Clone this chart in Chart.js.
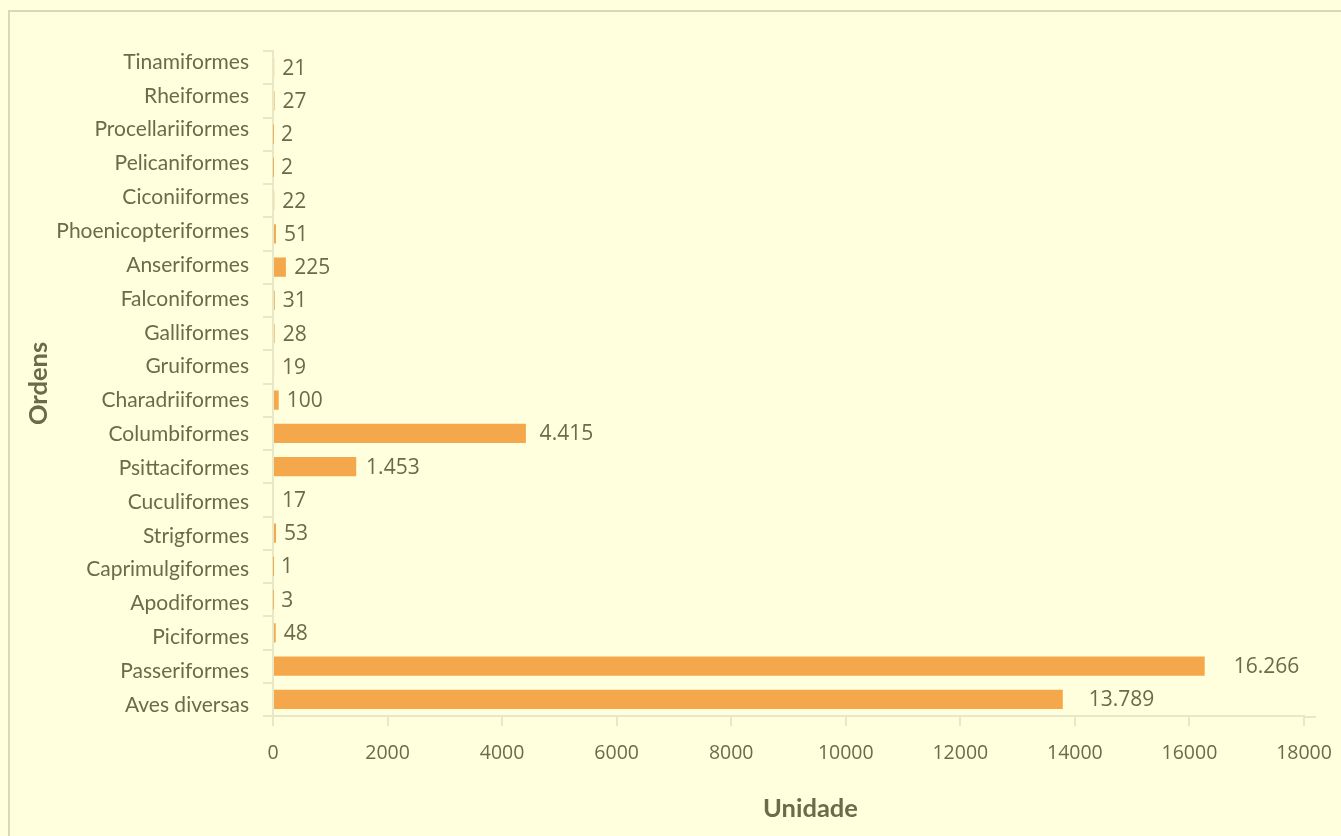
<!DOCTYPE html>
<html><head><meta charset="utf-8">
<script src="https://cdn.jsdelivr.net/npm/chart.js@4/dist/chart.umd.min.js"></script>
<style>
html,body{margin:0;padding:0;background:#FFFFDD;overflow:hidden;}
#frame{position:absolute;left:8px;top:10px;width:1400px;height:900px;border-top:2px solid #d9d9b4;border-left:2px solid #d9d9b4;}
#c{position:absolute;left:0;top:0;}
</style></head>
<body>
<div id="frame"></div>
<canvas id="c" width="1341" height="836"></canvas>
<script>
const categories = ["Tinamiformes","Rheiformes","Procellariiformes","Pelicaniformes","Ciconiiformes","Phoenicopteriformes","Anseriformes","Falconiformes","Galliformes","Gruiformes","Charadriiformes","Columbiformes","Psittaciformes","Cuculiformes","Strigformes","Caprimulgiformes","Apodiformes","Piciformes","Passeriformes","Aves diversas"];
const values = [21,27,2,2,22,51,225,31,28,19,100,4415,1453,17,53,1,3,48,16266,13789];
const xTicks = [0,2000,4000,6000,8000,10000,12000,14000,16000,18000];
const xTitle = 'Unidade';
const yTitle = 'Ordens';

const TEXT = '#6b6a4a';
const BAR = '#F4A84B';
const AXIS = '#e8e8c6';

function fmt(v){ return String(v).replace(/\B(?=(\d{3})+(?!\d))/g,'.'); }

const labelPlugin = {
  id:'valLabels',
  afterDatasetsDraw(chart){
    const ctx = chart.ctx;
    const meta = chart.getDatasetMeta(0);
    ctx.save();
    ctx.font = '21px "Open Sans"';
    ctx.fillStyle = TEXT;
    ctx.textAlign = 'left';
    ctx.textBaseline = 'middle';
    meta.data.forEach((el,i)=>{
      const v = values[i];
      const off = 8 + v*0.0013;
      ctx.fillText(fmt(v), el.x + off, el.y + 1);
    });
    const ca = chart.chartArea;
    ctx.font = 'bold 25.5px Lato';
    ctx.textAlign = 'center';
    ctx.fillText(xTitle, (ca.left + ca.right)/2 + 22, 809);
    ctx.strokeStyle = AXIS;
    ctx.lineWidth = 2;
    ctx.beginPath();
    ctx.moveTo(ca.right, ca.bottom + 1);
    ctx.lineTo(ca.right + 12, ca.bottom + 1);
    ctx.stroke();
    ctx.restore();
  }
};

const LMIN = -0.325, LMAX = categories.length - 1 + 0.325;

new Chart(document.getElementById('c'), {
  type:'bar',
  data:{ labels:categories, datasets:[{ data:values, backgroundColor:BAR, borderWidth:0, barPercentage:0.58, categoryPercentage:1, yAxisID:'y' }]},
  options:{
    indexAxis:'y',
    responsive:false,
    animation:false,
    devicePixelRatio:1,
    layout:{ padding:{ top:51, right:37, left:0, bottom:0 } },
    plugins:{ legend:{display:false}, tooltip:{enabled:false} },
    scales:{
      x:{
        min:0, max:18000,
        afterBuildTicks(s){ s.ticks = xTicks.map(v=>({value:v})); },
        afterFit(s){ s.height = 120; s.paddingLeft = 0; s.paddingRight = 0; },
        ticks:{ color:TEXT, font:{family:'"Open Sans"', size:19.5}, padding:16, callback:(v)=>String(v) },
        grid:{ display:true, drawOnChartArea:false, drawTicks:true, tickLength:10, color:AXIS, lineWidth:2 },
        border:{ display:true, color:AXIS, width:2 },
        title:{ display:false }
      },
      y:{
        type:'category',
        position:'left',
        weight:0,
        afterFit(s){ s.width = 10; },
        ticks:{ display:false },
        grid:{ display:true, drawOnChartArea:false, drawTicks:true, tickLength:10, color:AXIS, lineWidth:2, offset:true },
        border:{ display:true, color:AXIS, width:2 }
      },
      yl:{
        type:'linear',
        position:'left',
        weight:1,
        reverse:true,
        offset:false,
        min:LMIN, max:LMAX,
        bounds:'data',
        afterBuildTicks(s){ s.ticks = categories.map((c,i)=>({value:i})); s.min = LMIN; s.max = LMAX; },
        afterFit(s){ s.width = 263; },
        ticks:{ color:TEXT, font:{family:'Lato', size:21}, padding:14, callback:(v)=>categories[v] },
        grid:{ display:false, drawTicks:false, offset:false },
        border:{ display:false },
        title:{ display:true, text:yTitle, color:TEXT, font:{family:'Lato', size:25.5, weight:'bold'}, padding:{top:23,bottom:0} }
      }
    }
  },
  plugins:[labelPlugin]
});
</script>
</body></html>
